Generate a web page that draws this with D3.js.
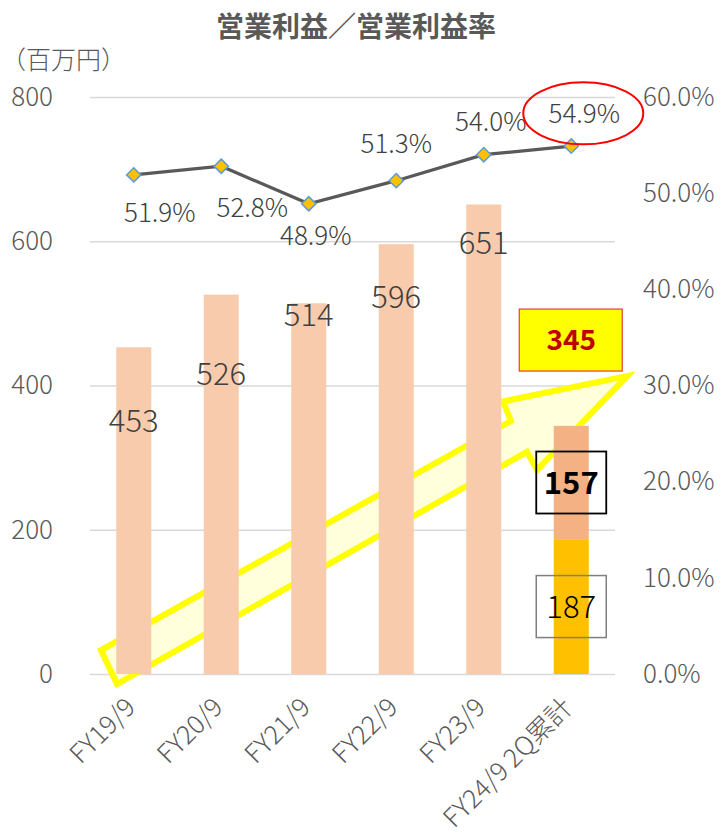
<!DOCTYPE html>
<html><head><meta charset="utf-8">
<script src="https://cdn.jsdelivr.net/npm/d3@7"></script>
<style>
body{margin:0;background:#fff}
text{font-family:"Noto Sans CJK JP","Noto Sans","Liberation Sans",sans-serif}
</style>
</head><body>
<svg id="c" width="721" height="838"></svg>
<script>
// ---------- data ----------
const categories = ["FY19/9","FY20/9","FY21/9","FY22/9","FY23/9","FY24/9 2Q累計"];
const profit = [453, 526, 514, 596, 651];          // 営業利益 (百万円), full years
const latestParts = [187, 157];                      // FY24/9 1Q, 2Q
const latestTotalLabel = "345";
const marginPct = [51.9, 52.8, 48.9, 51.3, 54.0, 54.9];
const leftTicks = [0, 200, 400, 600, 800];
const rightTicks = [0, 10, 20, 30, 40, 50, 60];
const titleText = "営業利益／営業利益率";
const unitText = "（百万円）";

// ---------- layout ----------
const svg = d3.select("#c");
const X0 = 90, X1 = 615, Y0 = 674, Y1 = 97;
const x = d3.scaleBand().domain(categories).range([X0, X1]).paddingInner(0.6).paddingOuter(0.3);
const xc = d3.scaleLinear().domain([-0.5, categories.length - 0.5]).range([X0, X1]);
const y = d3.scaleLinear().domain([0, 800]).range([Y0, Y1]);
const yr = d3.scaleLinear().domain([0, 60]).range([Y0, Y1]);
const cx = c => x(c) + x.bandwidth() / 2;
const axisColor = "#595959";
const LW = 300;

// title
svg.append("text").attr("x", 356).attr("y", 37).attr("text-anchor", "middle")
  .attr("font-size", 28).attr("font-weight", "bold").attr("fill", axisColor).text(titleText);
svg.append("text").attr("x", 1).attr("y", 69).attr("font-size", 25).attr("font-weight", LW).attr("fill", axisColor).text(unitText);

// gridlines
const grid = svg.append("g").attr("transform", `translate(${X0},0)`)
  .call(d3.axisLeft(y).tickValues(leftTicks).tickSize(-(X1 - X0)).tickFormat(""));
grid.select(".domain").remove();
grid.selectAll("line").attr("stroke", "#D9D9D9").attr("stroke-width", 1.4);

// left axis
const la = svg.append("g").attr("transform", `translate(${X0},0)`)
  .call(d3.axisLeft(y).tickValues(leftTicks).tickSize(0).tickPadding(37).tickFormat(d3.format("d")));
la.select(".domain").remove();
la.selectAll("text").attr("font-size", 26).attr("font-weight", LW).attr("fill", axisColor).attr("font-family", "Noto Sans CJK JP");

// right axis
const ra = svg.append("g").attr("transform", `translate(${X1},0)`)
  .call(d3.axisRight(yr).tickValues(rightTicks).tickSize(0).tickPadding(28).tickFormat(d => d3.format(".1f")(d) + "%"));
ra.select(".domain").remove();
ra.selectAll("text").attr("font-size", 26).attr("font-weight", LW).attr("fill", axisColor).attr("font-family", "Noto Sans CJK JP");

// x axis labels
const xa = svg.append("g");
xa.selectAll("text").data(categories).join("text")
  .attr("transform", d => `translate(${cx(d) + 3},${Y0 + 35}) rotate(-45)`)
  .attr("text-anchor", "end").attr("font-size", 26).attr("font-weight", LW).attr("fill", axisColor).text(d => d);

// arrow annotation (behind bars), defined in data space [category index, value]
const arrowPts = [[-0.374, 33], [4.311, 351], [4.22, 378], [5.637, 413], [4.609, 283], [4.494, 308], [-0.191, -14]];
svg.append("path")
  .attr("d", d3.line().x(d => xc(d[0])).y(d => y(d[1]))(arrowPts) + "Z")
  .attr("fill", "#FFFFDC").attr("stroke", "#FFFF00").attr("stroke-width", 6).attr("stroke-linejoin", "miter");

// bars
svg.append("g").selectAll("rect").data(profit).join("rect")
  .attr("x", (d, i) => x(categories[i])).attr("width", x.bandwidth())
  .attr("y", d => y(d)).attr("height", d => y(0) - y(d)).attr("fill", "#F8CBAD");

// stacked latest bar
const last = categories[categories.length - 1];
const stack = latestParts.map((v, i) => ({ v, y0: d3.sum(latestParts.slice(0, i)), y1: d3.sum(latestParts.slice(0, i + 1)) }));
const stackColors = ["#FFC000", "#F4B183"];
svg.append("g").selectAll("rect").data(stack).join("rect")
  .attr("x", x(last)).attr("width", x.bandwidth())
  .attr("y", d => y(d.y1)).attr("height", d => y(d.y0) - y(d.y1)).attr("fill", (d, i) => stackColors[i]);

// bar value labels (placement in value units)
const barLabelAt = [351, 416, 498, 523, 598];
svg.append("g").selectAll("text").data(profit).join("text")
  .attr("x", (d, i) => cx(categories[i])).attr("y", (d, i) => y(barLabelAt[i]))
  .attr("dy", "0.36em").attr("text-anchor", "middle").attr("font-size", 31).attr("font-weight", LW).attr("fill", "#404040")
  .text(d => d);

// stacked segment labels with boxes
const boxStyles = [
  { stroke: "#7F7F7F", weight: LW, sw: 1.5 },
  { stroke: "#000000", weight: "bold", sw: 1.8 }
];
stack.forEach((s, i) => {
  const mcy = y((s.y0 + s.y1) / 2), mcx = cx(last);
  svg.append("rect").attr("x", mcx - 35).attr("y", mcy - 31).attr("width", 70).attr("height", 62)
    .attr("fill", "none").attr("stroke", boxStyles[i].stroke).attr("stroke-width", boxStyles[i].sw);
  svg.append("text").attr("x", mcx).attr("y", mcy).attr("dy", "0.36em").attr("text-anchor", "middle")
    .attr("font-size", 31).attr("font-weight", boxStyles[i].weight).attr("fill", "#000").text(s.v);
});

// total label box
const totY = y(463), totX = cx(last);
svg.append("rect").attr("x", totX - 52).attr("y", totY - 31).attr("width", 103).attr("height", 62)
  .attr("fill", "#FFFF00").attr("stroke", "#E04040").attr("stroke-width", 1.2);
svg.append("text").attr("x", totX).attr("y", totY).attr("dy", "0.36em").attr("text-anchor", "middle")
  .attr("font-size", 28).attr("font-weight", "bold").attr("fill", "#C00000").text(latestTotalLabel);

// margin line
svg.append("path")
  .attr("d", d3.line().x((d, i) => cx(categories[i])).y(d => yr(d))(marginPct))
  .attr("fill", "none").attr("stroke", "#595959").attr("stroke-width", 3.2);
svg.append("g").selectAll("path").data(marginPct).join("path")
  .attr("transform", (d, i) => `translate(${cx(categories[i])},${yr(d)})`)
  .attr("d", d3.symbol(d3.symbolDiamond2, 130))
  .attr("fill", "#FFC000").attr("stroke", "#5B9BD5").attr("stroke-width", 1.5);

// margin labels (placement offsets: [dx px, label level in %])
const pctLabelAt = [[26, 48.0], [31, 48.5], [7, 45.6], [0, 55.2], [7, 57.4], [13, 58.3]];
svg.append("g").selectAll("text").data(marginPct).join("text")
  .attr("x", (d, i) => cx(categories[i]) + pctLabelAt[i][0]).attr("y", (d, i) => yr(pctLabelAt[i][1]))
  .attr("dy", "0.36em").attr("text-anchor", "middle").attr("font-size", 26).attr("font-weight", LW).attr("fill", "#404040")
  .text(d => d3.format(".1f")(d) + "%");

// highlight ellipse around latest margin label
svg.append("ellipse").attr("cx", cx(last) + 12).attr("cy", yr(58.3)).attr("rx", 60).attr("ry", 31)
  .attr("fill", "none").attr("stroke", "#FF0000").attr("stroke-width", 2);
</script>
</body></html>
